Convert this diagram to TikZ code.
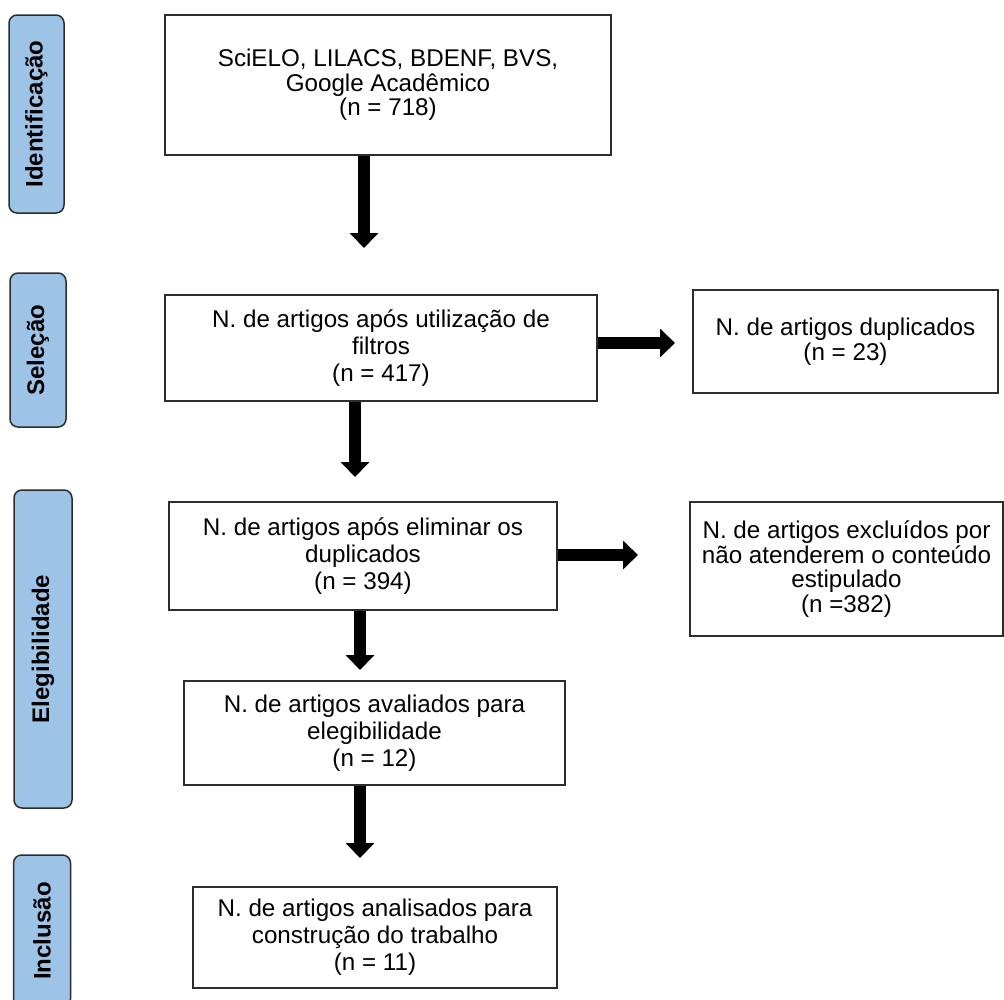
\documentclass[tikz,border=0pt]{standalone}
\usepackage{fontspec}
\setmainfont{Liberation Sans}
\usetikzlibrary{arrows.meta}
\definecolor{labblue}{RGB}{157,195,230}
\definecolor{bd}{RGB}{45,45,45}
\begin{document}
\begin{tikzpicture}[x=1pt,y=1pt,
  box/.style={draw=bd,line width=1.5pt,fill=white,align=center,inner sep=0pt,
    font=\fontsize{24.2}{27}\selectfont},
  tightbox/.style={box,font=\fontsize{24.2}{24.5}\selectfont},
  lab/.style={draw=bd,line width=1.5pt,fill=labblue,rounded corners=8pt,rotate=90,
    font=\bfseries\fontsize{24}{26}\selectfont,inner sep=0pt},
  arr/.style={line width=12pt,-{Triangle[length=15pt,width=28pt]}}]
\useasboundingbox (0,0) rectangle (1004,-999);
\clip (0,0) rectangle (1004,-999);

% phase labels
\node[lab,minimum width=198pt,minimum height=55pt] (l1) at (36.5,-114) {Identificação};
\node[lab,minimum width=154pt,minimum height=56pt] (l2) at (38,-350) {Seleção};
\node[lab,minimum width=318pt,minimum height=58pt] (l3) at (43,-649) {Elegibilidade};
\node[lab,minimum width=152pt,minimum height=57pt] (l4) at (42,-931) {Inclusão};

% boxes
\node[tightbox,minimum width=446pt,minimum height=140pt] (b1) at (388,-85)
  {SciELO, LILACS, BDENF, BVS,\\Google Acadêmico\\(n = 718)};
\node[box,minimum width=432pt,minimum height=106pt] (b2) at (381,-348)
  {N. de artigos após utilização de\\filtros\\(n = 417)};
\node[tightbox,minimum width=305pt,minimum height=103pt] (d1) at (845.5,-341.5)
  {N. de artigos duplicados\\(n = 23)};
\node[box,minimum width=388pt,minimum height=108pt] (b3) at (363,-556)
  {N. de artigos após eliminar os\\duplicados\\(n = 394)};
\node[tightbox,minimum width=313pt,minimum height=134pt] (d2) at (846.5,-569)
  {N. de artigos excluídos por\\não atenderem o conteúdo\\estipulado\\(n =382)};
\node[box,minimum width=381pt,minimum height=104pt] (b4) at (374.5,-733)
  {N. de artigos avaliados para\\elegibilidade\\(n = 12)};
\node[box,minimum width=364pt,minimum height=101pt] (b5) at (375,-937.5)
  {N. de artigos analisados para\\construção do trabalho\\(n = 11)};

% arrow tips
\coordinate (t1) at (364,-248);
\coordinate (t2) at (675,-343);
\coordinate (t3) at (355,-477);
\coordinate (t4) at (638,-555);
\coordinate (t5) at (360,-670);
\coordinate (t6) at (360,-858);

\draw[arr] (b1.south -| t1) -- (t1);
\draw[arr] (b2.east |- t2) -- (t2);
\draw[arr] (b2.south -| t3) -- (t3);
\draw[arr] (b3.east |- t4) -- (t4);
\draw[arr] (b3.south -| t5) -- (t5);
\draw[arr] (b4.south -| t6) -- (t6);
\end{tikzpicture}
\end{document}
